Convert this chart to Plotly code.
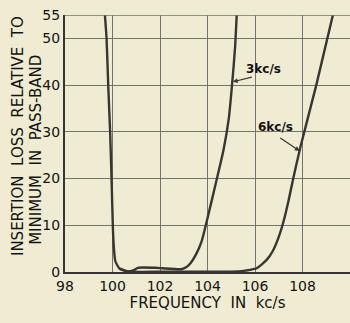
import plotly.graph_objects as go

# Insertion loss (dB) vs frequency (kc/s) for the two filters
freq_3k = [99.68, 99.75, 99.82, 99.90, 99.96, 100.02, 100.06, 100.12, 100.30, 100.65,
           100.90, 101.07, 101.80, 102.10, 102.90, 103.10, 103.30, 103.50, 103.75, 104.00,
           104.35, 104.67, 104.90, 105.05, 105.16, 105.23]
loss_3k = [55, 50, 40, 30, 20, 9, 5, 2.3, 0.7, 0.1,
           0.4, 0.9, 0.9, 0.8, 0.6, 1.0, 2.0, 3.6, 6.5, 11.5,
           19, 26, 33, 41, 48, 55]

freq_6k = [100.30, 100.65, 102.0, 104.0, 105.30, 105.60, 106.07, 106.49, 106.75, 107.00,
           107.20, 107.40, 107.61, 107.90, 108.58, 109.28]
loss_6k = [0.7, 0.1, 0.05, 0.05, 0.1, 0.3, 0.8, 2.6, 4.5, 7.5,
           10.8, 15, 20, 26.5, 40, 55]

x_ticks = [98, 100, 102, 104, 106, 108, 110]
y_ticks = [0, 10, 20, 30, 40, 50, 55]

ink = "#3a3530"
text_ink = "#15120f"
grid = "#77736a"
paper = "#efecd3"
font_family = "DejaVu Sans"

fig = go.Figure()
for fx, fy in [(freq_3k, loss_3k), (freq_6k, loss_6k)]:
    fig.add_trace(go.Scatter(x=fx, y=fy, mode="lines",
                             line=dict(color=ink, width=2.4, shape="spline", smoothing=0.5),
                             hoverinfo="skip", showlegend=False))

# curve labels with pointer arrows
labels = [
    dict(text="<b>3kc/s</b>", x=106.35, y=43.5, tail=(105.93, 41.8), head=(105.07, 40.7)),
    dict(text="<b>6kc/s</b>", x=106.85, y=31.0, tail=(107.0, 28.9), head=(107.88, 25.9)),
]
for lab in labels:
    fig.add_annotation(x=lab["x"], y=lab["y"], text=lab["text"], showarrow=False,
                       font=dict(family=font_family, size=12, color=text_ink))
    fig.add_annotation(x=lab["head"][0], y=lab["head"][1], ax=lab["tail"][0], ay=lab["tail"][1],
                       axref="x", ayref="y", xref="x", yref="y", text="", showarrow=True,
                       arrowhead=2, arrowsize=0.8, arrowwidth=1.2, arrowcolor=ink, standoff=0)

# two-line rotated y-axis title
fig.add_annotation(text="INSERTION  LOSS  RELATIVE  TO", xref="paper", yref="paper",
                   x=-0.165, y=0.529, textangle=-90, showarrow=False,
                   xanchor="center", yanchor="middle",
                   font=dict(family=font_family, size=15, color=text_ink))
fig.add_annotation(text="MINIMUM  IN  PASS-BAND", xref="paper", yref="paper",
                   x=-0.102, y=0.475, textangle=-90, showarrow=False,
                   xanchor="center", yanchor="middle",
                   font=dict(family=font_family, size=15, color=text_ink))

fig.update_layout(
    width=350, height=323,
    margin=dict(l=65, r=0, t=15, b=51),
    paper_bgcolor=paper, plot_bgcolor=paper,
    font=dict(family=font_family, size=14, color=text_ink),
    xaxis=dict(range=[98, 110], tickvals=x_ticks, ticktext=[str(v) for v in x_ticks],
               showgrid=True, gridcolor=grid, gridwidth=1, zeroline=False,
               showline=True, linecolor=ink, linewidth=2, ticks="",
               title=dict(text="FREQUENCY  IN  kc/s", standoff=5,
                          font=dict(family=font_family, size=15))),
    yaxis=dict(range=[0, 55], tickvals=y_ticks, ticktext=[str(v) for v in y_ticks],
               showgrid=True, gridcolor=grid, gridwidth=1, zeroline=False,
               showline=True, linecolor=ink, linewidth=2, ticks="", ticklabelstandoff=0),
)
fig.add_shape(type="line", xref="paper", yref="y", x0=0, x1=1, y0=55, y1=55,
              line=dict(color=grid, width=1.5))

fig.write_html("out.html")
